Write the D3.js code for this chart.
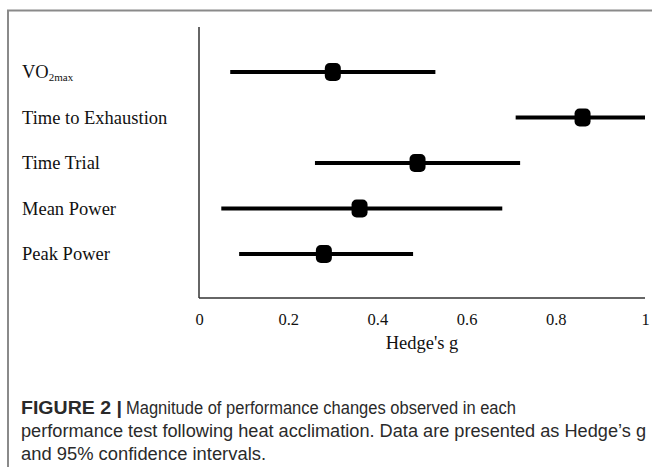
<!DOCTYPE html>
<html>
<head>
<meta charset="utf-8">
<script src="https://cdn.jsdelivr.net/npm/d3@7"></script>
<style>
  html, body { margin: 0; padding: 0; background: #fff; }
  svg { display: block; }
</style>
</head>
<body>
<svg id="chart" width="652" height="467"></svg>
<script>
// Effect sizes (Hedge's g) with 95% confidence intervals
const outcomes = ["VO2max", "Time to Exhaustion", "Time Trial", "Mean Power", "Peak Power"];
const hedgesG  = [0.30, 0.86, 0.49, 0.36, 0.28];
const ciLower  = [0.07, 0.71, 0.26, 0.05, 0.09];
const ciUpper  = [0.53, 1.00, 0.72, 0.68, 0.48];
const xTicks   = [0, 0.2, 0.4, 0.6, 0.8, 1];
const xTickLabels = ["0", "0.2", "0.4", "0.6", "0.8", "1"];

const rows = outcomes.map((name, i) => ({ name, g: hedgesG[i], lo: ciLower[i], hi: ciUpper[i] }));

const svg = d3.select("#chart");
const serif = "'Liberation Serif', 'Times New Roman', serif";
const sans = "'Liberation Sans', Arial, Helvetica, sans-serif";

// outer frame of the figure panel
svg.append("path")
  .attr("d", "M8,467 L8,10.5 L652,10.5")
  .attr("fill", "none")
  .attr("stroke", "#8a8a8a")
  .attr("stroke-width", 2);

const x = d3.scaleLinear().domain([0, 1]).range([199, 645]);
const y = d3.scalePoint().domain(outcomes).range([72, 254]);

// axes
const axisColor = "#333";
svg.append("line")
  .attr("x1", x(0)).attr("x2", x(0))
  .attr("y1", 27).attr("y2", 298)
  .attr("stroke", axisColor).attr("stroke-width", 1.5);
svg.append("line")
  .attr("x1", x(0)).attr("x2", x(1))
  .attr("y1", 298).attr("y2", 298)
  .attr("stroke", axisColor).attr("stroke-width", 1.5);

const xAxis = d3.axisBottom(x)
  .tickValues(xTicks)
  .tickSize(0)
  .tickPadding(0)
  .tickFormat((d, i) => xTickLabels[i]);
const gx = svg.append("g").attr("transform", "translate(0,313)").call(xAxis);
gx.select(".domain").remove();
gx.selectAll("text")
  .attr("font-family", serif)
  .attr("font-size", 16.5)
  .attr("fill", "#111")
  .attr("dy", "0.71em")
  .attr("y", 0);

svg.append("text")
  .attr("x", (x(0) + x(1)) / 2)
  .attr("y", 349)
  .attr("text-anchor", "middle")
  .attr("font-family", serif)
  .attr("font-size", 18.5)
  .attr("fill", "#111")
  .text("Hedge's g");

// category labels
const labels = svg.append("g").attr("font-family", serif).attr("font-size", 18.5).attr("fill", "#111");
rows.forEach(r => {
  const t = labels.append("text")
    .attr("x", 22)
    .attr("y", y(r.name))
    .attr("dy", "0.35em");
  if (r.name === "VO2max") {
    t.append("tspan").text("VO");
    t.append("tspan").attr("font-size", 11).attr("dy", "0.25em").text("2max");
  } else {
    t.text(r.name);
  }
});

// confidence interval lines
svg.append("g").selectAll("line")
  .data(rows)
  .join("line")
  .attr("x1", d => x(d.lo))
  .attr("x2", d => x(d.hi))
  .attr("y1", d => y(d.name))
  .attr("y2", d => y(d.name))
  .attr("stroke", "#000")
  .attr("stroke-width", 4);

// point estimates
const mw = 16, mh = 18;
svg.append("g").selectAll("rect")
  .data(rows)
  .join("rect")
  .attr("x", d => x(d.g) - mw / 2)
  .attr("y", d => y(d.name) - mh / 2)
  .attr("width", mw)
  .attr("height", mh)
  .attr("rx", 5).attr("ry", 5)
  .attr("fill", "#000");

// caption
const cap = svg.append("g").attr("font-family", sans).attr("font-size", 17.5).attr("fill", "#2a2a2a");
cap.append("text").attr("x", 21).attr("y", 414)
  .attr("font-weight", "bold")
  .attr("textLength", 101).attr("lengthAdjust", "spacingAndGlyphs")
  .text("FIGURE 2 |");
cap.append("text").attr("x", 126).attr("y", 414)
  .attr("textLength", 390).attr("lengthAdjust", "spacingAndGlyphs")
  .text("Magnitude of performance changes observed in each");
cap.append("text").attr("x", 21).attr("y", 437)
  .attr("textLength", 625).attr("lengthAdjust", "spacingAndGlyphs")
  .text("performance test following heat acclimation. Data are presented as Hedge\u2019s g");
cap.append("text").attr("x", 21).attr("y", 460)
  .attr("textLength", 245).attr("lengthAdjust", "spacingAndGlyphs")
  .text("and 95% confidence intervals.");
</script>
</body>
</html>
